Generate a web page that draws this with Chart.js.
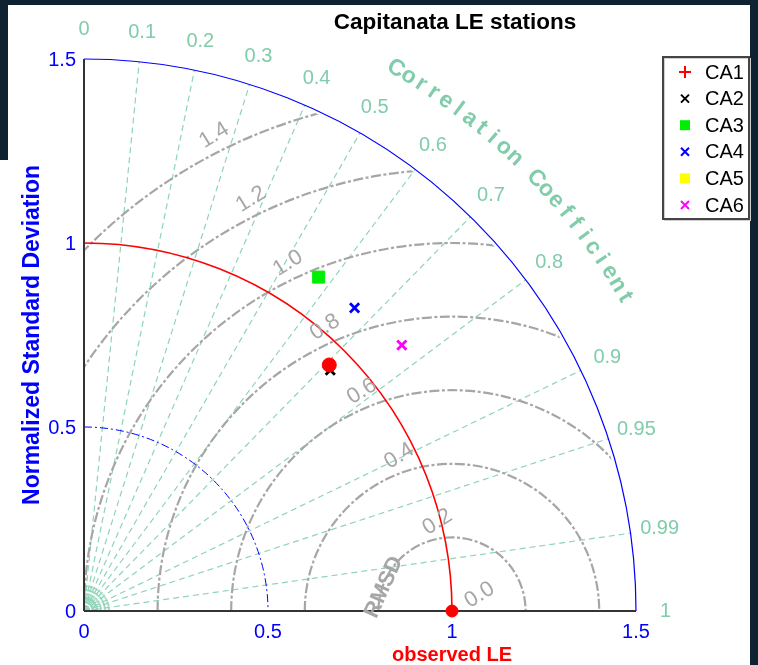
<!DOCTYPE html>
<html><head><meta charset="utf-8">
<script src="https://cdn.jsdelivr.net/npm/chart.js@4.4.1/dist/chart.umd.min.js"></script>
<style>html,body{margin:0;padding:0;background:#0e2232;overflow:hidden}canvas{display:block}</style>
</head><body><canvas id="c" width="758" height="665"></canvas>
<script>
// ---- data ----
const categories = ['CA1','CA2','CA3','CA4','CA5','CA6'];
const stdDev   = [0.944, 0.936, 1.109, 1.104, null, 1.126];
const corrCoef = [0.706, 0.715, 0.575, 0.666, null, 0.767];
const refStd = 1.0;
const stdTicks = [0, 0.5, 1, 1.5];
const stdTickLabels = ['0','0.5','1','1.5'];
const corrTicks = [0,0.1,0.2,0.3,0.4,0.5,0.6,0.7,0.8,0.9,0.95,0.99,1];
const corrTickLabels = ['0','0.1','0.2','0.3','0.4','0.5','0.6','0.7','0.8','0.9','0.95','0.99','1'];
const rmsdTicks = [0,0.2,0.4,0.6,0.8,1.0,1.2,1.4];
const rmsdTickLabels = ['0.0','0.2','0.4','0.6','0.8','1.0','1.2','1.4'];
const titleText = 'Capitanata LE stations';
const yTitle = 'Normalized Standard Deviation';
const xTitle = 'observed LE';
const corrTitle = 'Correlation Coefficient';

// ---- styles ----
const seriesColors = ['#ff0000','#000000','#00ee00','#0000ff','#ffff00','#ff00ff'];
const plotStyles = ['circle','crossRot','rect','crossRot','rect','crossRot'];
const legendStyles = ['cross','crossRot','rect','crossRot','rect','crossRot'];
const plotRadius = [7,6.5,8.5,6.5,8.5,6.5];
const F = '"Liberation Sans", Arial, Helvetica, sans-serif';
const TEAL = '#8fd4b8', TEAL_TXT = '#80ccab', GRAY = '#a6a6a6', BLUE = '#0000ff';

const datasets = categories.map((name,i)=>{
  const s = stdDev[i], r = corrCoef[i];
  const data = (s==null||r==null) ? [] : [{x: s*r, y: s*Math.sqrt(1-r*r)}];
  const isX = plotStyles[i]==='crossRot';
  return {label:name, data, pointStyle:plotStyles[i], radius:plotRadius[i],
    backgroundColor:seriesColors[i], borderColor:seriesColors[i],
    borderWidth: isX?2.8:1, clip:false};
});
datasets.push({label:'observed', data:[{x:refStd,y:0}], pointStyle:'circle', radius:6,
  backgroundColor:'#ff0000', borderColor:'#ff0000', borderWidth:1, clip:false});

const taylorPlugin = {
  id:'taylor',
  beforeDraw(chart){
    const c = chart.ctx;
    c.save();
    c.fillStyle='#0e2232'; c.fillRect(0,0,chart.width,chart.height);
    c.fillStyle='#ffffff'; c.fillRect(0,5,750,chart.height-5);
    c.fillStyle='#0e2232'; c.fillRect(0,0,8,160);
    c.restore();
  },
  beforeDatasetsDraw(chart){
    const c = chart.ctx, xs = chart.scales.x, ys = chart.scales.y;
    const P = (x,y)=>[xs.getPixelForValue(x), ys.getPixelForValue(y)];
    const L = v => xs.getPixelForValue(v)-xs.getPixelForValue(0);
    const [ox,oy] = P(0,0);
    const Rmax = L(1.5);
    c.save();
    // correlation lines
    c.strokeStyle=TEAL; c.lineWidth=1.2; c.setLineDash([6,4]);
    corrTicks.forEach(r=>{
      if(r<=0||r>=1) return;
      const [ex,ey] = P(1.5*r, 1.5*Math.sqrt(1-r*r));
      c.beginPath(); c.moveTo(ox,oy); c.lineTo(ex,ey); c.stroke();
    });
    // dense fan near origin
    c.setLineDash([2,2]); c.lineWidth=1;
    for(let k=1;k<30;k++){
      const a = k*Math.PI/60;
      const rr = L(0.075);
      c.beginPath(); c.moveTo(ox,oy); c.lineTo(ox+rr*Math.cos(a), oy-rr*Math.sin(a)); c.stroke();
    }
    c.setLineDash([]);
    c.fillStyle=TEAL; c.beginPath(); c.moveTo(ox,oy); c.arc(ox,oy,4,-Math.PI/2,0); c.closePath(); c.fill();
    // RMSD arcs clipped to the quadrant
    c.save();
    c.beginPath(); c.moveTo(ox,oy); c.arc(ox,oy,Rmax-3,-Math.PI/2,0); c.closePath(); c.clip();
    const [cx,cy] = P(refStd,0);
    c.strokeStyle=GRAY; c.lineWidth=2.2; c.setLineDash([10,2.5,3,2.5]);
    rmsdTicks.forEach(v=>{
      if(v<=0) return;
      c.beginPath(); c.arc(cx,cy,L(v),Math.PI,2*Math.PI); c.stroke();
    });
    c.restore();
    // std 0.5 dash-dot arc
    c.strokeStyle=BLUE; c.lineWidth=1; c.setLineDash([8,3,2,3]);
    c.beginPath(); c.arc(ox,oy,L(0.5),-Math.PI/2,0); c.stroke();
    // reference std arc
    c.setLineDash([]);
    c.strokeStyle='#ff0000'; c.lineWidth=1.6;
    c.beginPath(); c.arc(ox,oy,L(refStd),-Math.PI/2,0); c.stroke();
    // outer arc
    c.strokeStyle=BLUE; c.lineWidth=1.2;
    c.beginPath(); c.arc(ox,oy,Rmax,-Math.PI/2,0); c.stroke();
    // axes
    c.strokeStyle='#333333'; c.lineWidth=2;
    c.beginPath(); c.moveTo(ox,oy); c.lineTo(...P(1.5,0)); c.stroke();
    c.beginPath(); c.moveTo(ox,oy); c.lineTo(...P(0,1.5)); c.stroke();

    // std tick labels
    c.fillStyle=BLUE; c.font='20px '+F;
    c.textAlign='center'; c.textBaseline='middle';
    stdTicks.forEach((v,i)=>{ const [x,y]=P(v,0); c.fillText(stdTickLabels[i], x, y+21); });
    c.textAlign='right';
    stdTicks.forEach((v,i)=>{ const [x,y]=P(0,v); c.fillText(stdTickLabels[i], x-8, y+1); });
    // correlation labels
    c.fillStyle=TEAL_TXT; c.font='20px '+F; c.textAlign='center';
    corrTicks.forEach((r,i)=>{
      const [x,y]=P(1.58*r, 1.58*Math.sqrt(1-r*r));
      c.fillText(corrTickLabels[i], x, y);
    });
    // curved title
    c.font='bold 23px '+F;
    const a0 = 60.1*Math.PI/180, a1 = 30.1*Math.PI/180;
    const n = corrTitle.length;
    for(let i=0;i<n;i++){
      const a = a0 - (a0-a1)*i/(n-1);
      const rr = L(1.70);
      c.save();
      c.translate(ox+rr*Math.cos(a), oy-rr*Math.sin(a));
      c.rotate(Math.PI/2 - a);
      c.fillText(corrTitle[i],0,0);
      c.restore();
    }
    // RMSD labels along a line
    c.fillStyle=GRAY; c.font='22px '+F;
    const lx0 = 1.100, dir = 120*Math.PI/180;
    rmsdTicks.forEach((v,i)=>{
      const rad = v+0.045;
      const bx = lx0-refStd;
      const B = 2*bx*Math.cos(dir), C0 = bx*bx-rad*rad;
      const disc = B*B-4*C0;
      const t = disc>0 ? (-B+Math.sqrt(disc))/2 : -B/2;
      const [x,y] = P(lx0+t*Math.cos(dir), t*Math.sin(dir));
      c.save(); c.translate(x,y); c.rotate(-32*Math.PI/180);
      c.fillText(rmsdTickLabels[i],0,0); c.restore();
    });
    c.font='bold 22px '+F;
    { const [x,y]=P(0.815,0.065); c.save(); c.translate(x,y); c.rotate(-66*Math.PI/180); c.fillText('RMSD',0,0); c.restore(); }

    // titles
    c.fillStyle='#000'; c.font='bold 22.5px '+F; c.textAlign='center';
    c.fillText(titleText, 455, 23);
    c.fillStyle='#ff0000'; c.font='bold 20px '+F;
    { const [x]=P(refStd,0); c.fillText(xTitle, x, 655); }
    c.fillStyle=BLUE; c.font='bold 23px '+F;
    c.save(); c.translate(33, 335); c.rotate(-Math.PI/2); c.fillText(yTitle,0,0); c.restore();
    c.restore();
  },
  afterDatasetsDraw(chart){
    const c = chart.ctx;
    c.save();
    const bx=663, by=57, bw=86, bh=162;
    c.fillStyle='#ffffff'; c.fillRect(bx,by,bw,bh);
    c.strokeStyle='#cfcfcf'; c.lineWidth=1; c.strokeRect(bx+1.5,by+1.5,bw,bh);
    c.strokeStyle='#444444'; c.lineWidth=2; c.strokeRect(bx,by,bw,bh);
    c.font='20px '+F; c.textAlign='left'; c.textBaseline='middle';
    categories.forEach((name,i)=>{
      const y = 72 + i*26.6, x = 685;
      const col = seriesColors[i];
      c.strokeStyle=col; c.fillStyle=col; c.lineWidth=2;
      const st = legendStyles[i];
      c.beginPath();
      if(st==='cross'){ c.moveTo(x-6,y); c.lineTo(x+6,y); c.moveTo(x,y-6); c.lineTo(x,y+6); c.stroke(); }
      else if(st==='crossRot'){ c.moveTo(x-4,y-4); c.lineTo(x+4,y+4); c.moveTo(x+4,y-4); c.lineTo(x-4,y+4); c.stroke(); }
      else { c.fillRect(x-5,y-5,10,10); }
      c.fillStyle='#000'; c.fillText(name, 705, y+1);
    });
    c.restore();
  }
};

new Chart(document.getElementById('c').getContext('2d'), {
  type:'scatter',
  data:{datasets},
  options:{
    responsive:false, animation:false, devicePixelRatio:1, events:[],
    layout:{padding:{left:84,right:122,top:59,bottom:54}},
    scales:{
      x:{type:'linear',min:0,max:1.5,display:false},
      y:{type:'linear',min:0,max:1.5,display:false}
    },
    plugins:{legend:{display:false},title:{display:false},tooltip:{enabled:false}}
  },
  plugins:[taylorPlugin]
});
</script>
</body></html>
